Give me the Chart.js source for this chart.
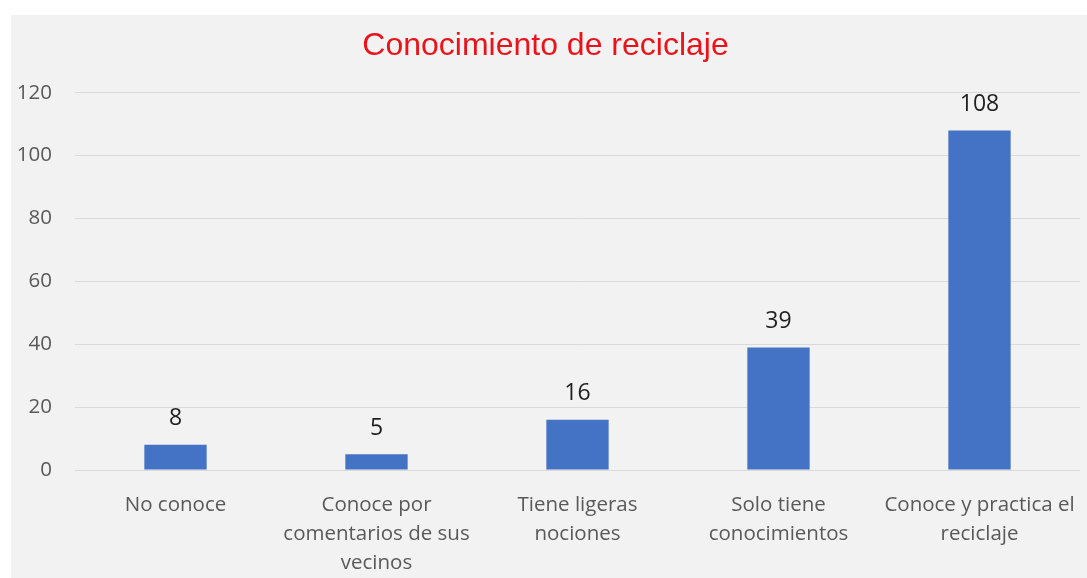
<!DOCTYPE html>
<html>
<head>
<meta charset="utf-8">
<script src="https://cdn.jsdelivr.net/npm/chart.js@4/dist/chart.umd.min.js"></script>
<style>
  html, body { margin: 0; padding: 0; background: #ffffff; }
  #wrap { position: absolute; left: 11px; top: 15px; width: 1076px; height: 563px; background: #f2f2f2; }
</style>
</head>
<body>
<div id="wrap"><canvas id="chart" width="1076" height="563"></canvas></div>
<script>
const categories = [
    'No conoce',
    ['Conoce por', 'comentarios de sus', 'vecinos'],
    ['Tiene ligeras', 'nociones'],
    ['Solo tiene', 'conocimientos'],
    ['Conoce y practica el', 'reciclaje']
];
const values = [8, 5, 16, 39, 108];
const yTicks = [0, 20, 40, 60, 80, 100, 120];

// value text drawn above every bar
const barLabels = {
    id: 'barLabels',
    afterDatasetsDraw(chart) {
        const ctx = chart.ctx;
        const meta = chart.getDatasetMeta(0);
        ctx.save();
        ctx.font = '23px "Open Sans"';
        ctx.fillStyle = '#1f1f1f';
        ctx.textAlign = 'center';
        ctx.textBaseline = 'middle';
        meta.data.forEach((bar, i) => {
            ctx.fillText(String(chart.data.datasets[0].data[i]), bar.x, bar.y - 26);
        });
        ctx.restore();
    }
};

const ctx = document.getElementById('chart').getContext('2d');
const chart = new Chart(ctx, {
    type: 'bar',
    data: {
        labels: categories,
        datasets: [{
            data: values,
            backgroundColor: '#4472c4',
            barPercentage: 0.31,
            categoryPercentage: 1
        }]
    },
    options: {
        responsive: false,
        animation: false,
        layout: { padding: { left: 0, right: 7, top: 0, bottom: 0 } },
        plugins: {
            legend: { display: false },
            tooltip: { enabled: false },
            title: {
                display: true,
                text: 'Conocimiento de reciclaje',
                color: '#e8141b',
                font: { family: '"Liberation Sans", Arial, sans-serif', size: 32, weight: 'normal', lineHeight: 1.2 },
                padding: { top: 12, bottom: 27.3 }
            }
        },
        scales: {
            x: {
                grid: { display: false, drawTicks: false },
                border: { display: false },
                ticks: {
                    color: '#595959',
                    font: { family: '"Open Sans"', size: 20.5, lineHeight: 1.43 },
                    padding: 20,
                    maxRotation: 0,
                    autoSkip: false
                },
                afterFit: (scale) => {
                    scale.height = 108;
                    // long edge labels may overhang the plot, keep full width
                    scale.paddingLeft = 0;
                    scale.paddingRight = 0;
                }
            },
            y: {
                min: 0,
                max: 120,
                afterBuildTicks: (scale) => { scale.ticks = yTicks.map(v => ({ value: v })); },
                grid: { color: '#d9d9d9', lineWidth: 1, drawTicks: false },
                border: { display: false },
                ticks: {
                    color: '#595959',
                    font: { family: '"Open Sans"', size: 20.5 },
                    padding: 23
                },
                afterFit: (scale) => { scale.width = 64; }
            }
        }
    },
    plugins: [barLabels]
});
</script>
</body>
</html>
